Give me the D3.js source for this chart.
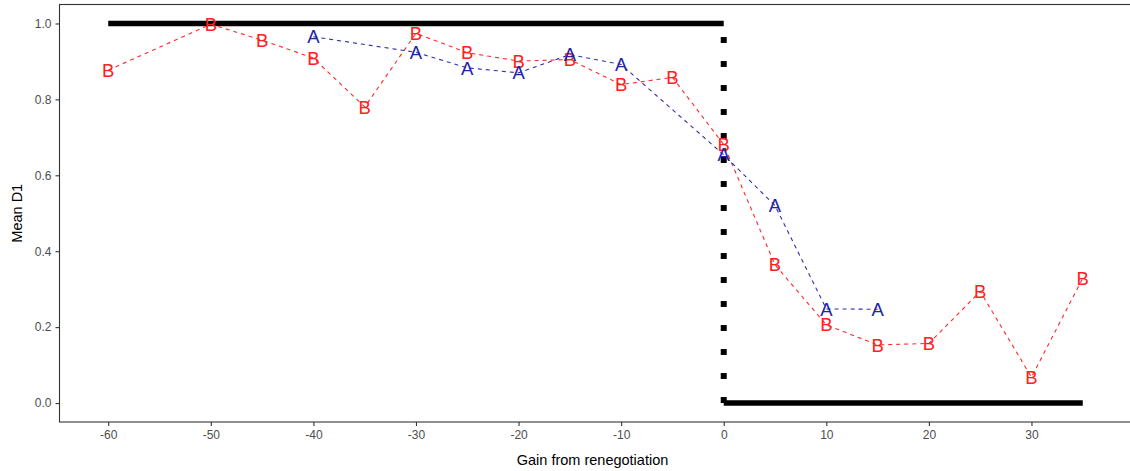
<!DOCTYPE html>
<html>
<head>
<meta charset="utf-8">
<script src="https://cdn.jsdelivr.net/npm/d3@7"></script>
<style>
  html, body { margin: 0; padding: 0; background: #fff; }
  svg { display: block; }
</style>
</head>
<body>
<svg id="chart" width="1130" height="471"></svg>
<script>
// ---- data ----
const xA = [-40, -30, -25, -20, -15, -10, 0, 5, 10, 15];
const yA = [0.965, 0.924, 0.883, 0.870, 0.918, 0.892, 0.654, 0.520, 0.248, 0.247];
const xB = [-60, -50, -45, -40, -35, -30, -25, -20, -15, -10, -5, 0, 5, 10, 15, 20, 25, 30, 35];
const yB = [0.877, 0.998, 0.956, 0.909, 0.780, 0.974, 0.923, 0.901, 0.905, 0.839, 0.858, 0.681, 0.364, 0.206, 0.153, 0.157, 0.294, 0.068, 0.329];
const xTicks = [-60, -50, -40, -30, -20, -10, 0, 10, 20, 30];
const yTicks = [0.0, 0.2, 0.4, 0.6, 0.8, 1.0];
const benchTop = [[-60, 1], [0, 1]];
const benchVert = [[0, 0], [0, 1]];
const benchBottom = [[0, 0], [35, 0]];

// ---- layout ----
const svg = d3.select("#chart");
const pLeft = 59.5, pTop = 4.5, pBottom = 422, pRight = 1131.5;
const x = d3.scaleLinear().domain([-64.75, 39.75]).range([pLeft, pRight]);
const y = d3.scaleLinear().domain([-0.05, 1.05]).range([pBottom, pTop]);
const font = "'Liberation Sans', Arial, sans-serif";

// axes
const xAxis = svg.append("g").attr("transform", `translate(0,${pBottom})`)
  .call(d3.axisBottom(x).tickValues(xTicks).tickSize(4).tickPadding(4).tickFormat(d => String(d)));
const yAxis = svg.append("g").attr("transform", `translate(${pLeft},0)`)
  .call(d3.axisLeft(y).tickValues(yTicks).tickSize(4).tickPadding(4).tickFormat(d => d.toFixed(1)));
[xAxis, yAxis].forEach(g => {
  g.select(".domain").remove();
  g.selectAll(".tick line").attr("stroke", "#333333").attr("stroke-width", 1.1);
  g.selectAll(".tick text").attr("fill", "#4d4d4d").style("font-family", font).style("font-size", "12px");
});
xAxis.selectAll(".tick text").attr("dy", "0.71em");

// panel border
svg.append("rect")
  .attr("x", pLeft).attr("y", pTop)
  .attr("width", pRight - pLeft).attr("height", pBottom - pTop)
  .attr("fill", "none").attr("stroke", "#333333").attr("stroke-width", 1.1);

// benchmark lines
const ln = d3.line().x(d => x(d[0])).y(d => y(d[1]));
svg.append("path").attr("d", ln(benchVert)).attr("fill", "none")
  .attr("stroke", "#000").attr("stroke-width", 6).attr("stroke-dasharray", "6,18");
svg.append("path").attr("d", ln(benchTop)).attr("fill", "none")
  .attr("stroke", "#000").attr("stroke-width", 5.5);
svg.append("path").attr("d", ln(benchBottom)).attr("fill", "none")
  .attr("stroke", "#000").attr("stroke-width", 5.5);

// series
const series = [
  { xs: xB, ys: yB, label: "B", line: "#ff2a2a", text: "#ff2020" },
  { xs: xA, ys: yA, label: "A", line: "#3030a8", text: "#2323a6" }
];
const fs = 18.5;
series.forEach(s => {
  const pts = s.xs.map((v, i) => [v, s.ys[i]]);
  svg.append("path").attr("d", ln(pts)).attr("fill", "none")
    .attr("stroke", s.line).attr("stroke-width", 1.1).attr("stroke-dasharray", "4,4");
});
series.forEach(s => {
  const pts = s.xs.map((v, i) => [v, s.ys[i]]);
  svg.append("g").selectAll("text").data(pts).join("text")
    .attr("x", d => x(d[0]))
    .attr("y", d => y(d[1]) + fs * 0.358)
    .attr("text-anchor", "middle")
    .attr("fill", s.text)
    .style("font-family", font).style("font-size", fs + "px")
    .text(s.label);
});

// axis titles
svg.append("text").attr("x", (pLeft + pRight) / 2 - 3).attr("y", 465)
  .attr("text-anchor", "middle").attr("fill", "#000")
  .style("font-family", font).style("font-size", "14.5px")
  .text("Gain from renegotiation");
svg.append("text").attr("transform", `translate(22,${(pTop + pBottom) / 2}) rotate(-90)`)
  .attr("text-anchor", "middle").attr("fill", "#000")
  .style("font-family", font).style("font-size", "14.5px")
  .text("Mean D1");
</script>
</body>
</html>
